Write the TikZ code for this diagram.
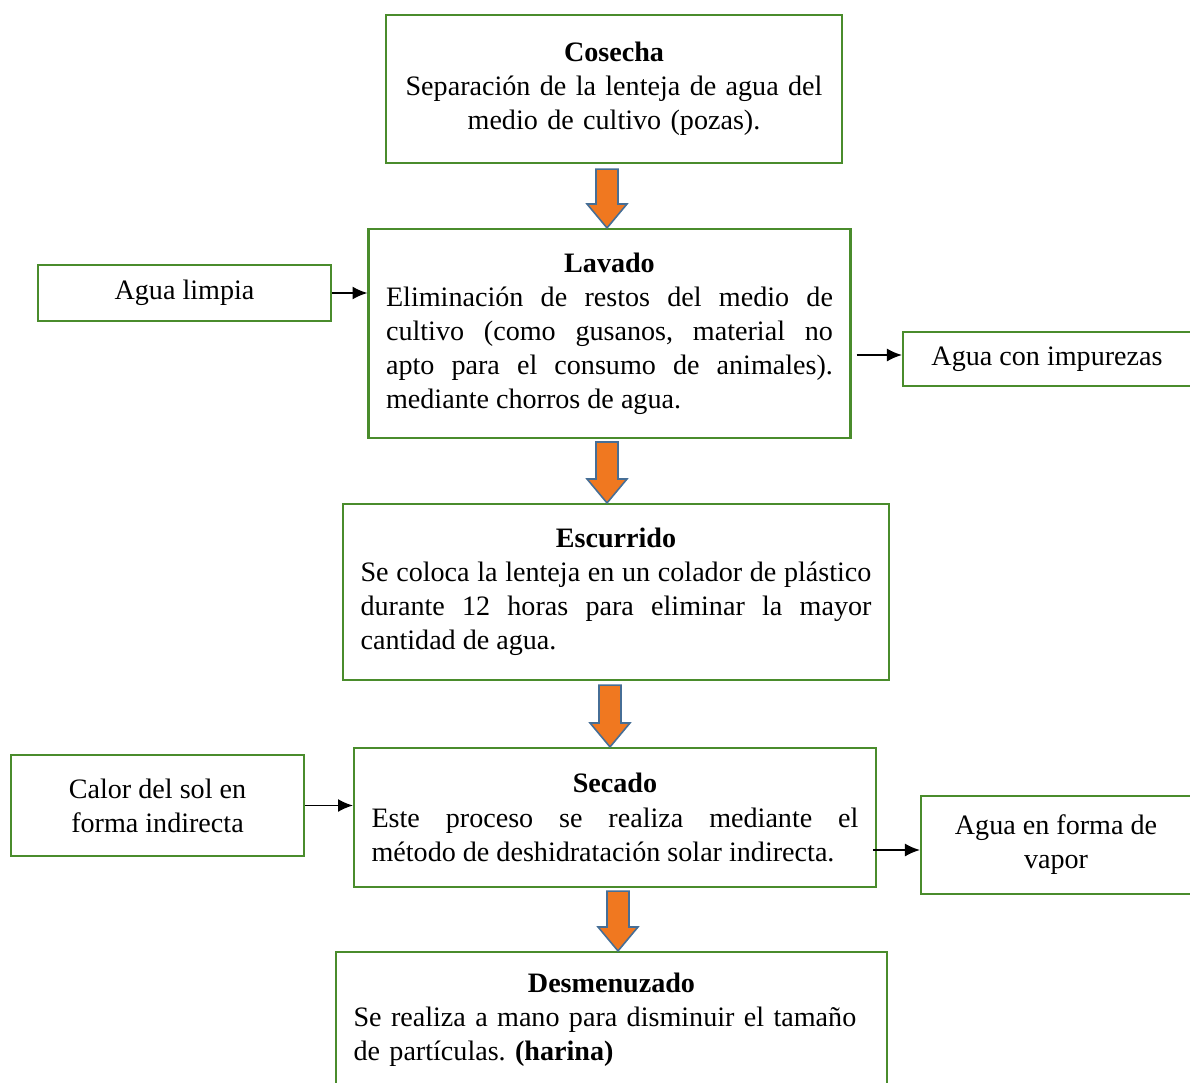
\documentclass[tikz,border=0pt]{standalone}
\usepackage{fontspec}
\setmainfont{Liberation Serif}
\usetikzlibrary{arrows.meta,positioning,calc}
\definecolor{boxgreen}{RGB}{74,140,44}
\definecolor{arroworange}{RGB}{240,120,32}
\definecolor{arrowedge}{RGB}{70,110,150}
\frenchspacing

\begin{document}
\begin{tikzpicture}[
  x=0.02cm, y=-0.02cm,
  >=Latex,
  font=\fontsize{16}{19.4}\selectfont,
  block/.style={rectangle, draw=boxgreen, line width=1.2pt, align=justify, inner xsep=0.35cm, inner ysep=0pt},
  side/.style={rectangle, draw=boxgreen, line width=1.2pt, align=center, inner sep=0pt},
  line/.style={draw, line width=1pt, -{Latex[length=3mm,width=2.6mm]}},
  flow/.style={draw=arrowedge, fill=arroworange, line width=0.9pt, line join=miter,
    to path={let \p1=(\tikztostart), \p2=(\tikztotarget) in
      (\x1-0.22cm,\y1) -- (\x1+0.22cm,\y1) -- (\x1+0.22cm,\y2+0.48cm)
      -- (\x1+0.4cm,\y2+0.48cm) -- (\x1,\y2) -- (\x1-0.4cm,\y2+0.48cm)
      -- (\x1-0.22cm,\y2+0.48cm) -- cycle}}
]
\clip (0,0) rectangle (1190,1082);

\node[block, align=center, text width=8.42cm, minimum width=9.12cm, minimum height=2.96cm] (cosecha) at (614,89)
  {\textbf{Cosecha}\\Separación de la lenteja de agua del\\medio de cultivo (pozas).};
\node[block, text width=8.94cm, minimum height=4.18cm] (lavado) at (609.5,333.5)
  {{\centering\textbf{Lavado}\par}Eliminación de restos del medio de\linebreak cultivo (como gusanos, material no\linebreak apto para el consumo de animales).\linebreak mediante chorros de agua.};
\node[block, text width=10.22cm, minimum height=3.52cm] (escurrido) at (616,592)
  {{\centering\textbf{Escurrido}\par}Se coloca la lenteja en un colador de plástico\linebreak durante 12 horas para eliminar la mayor\linebreak cantidad de agua.};
\node[block, text width=9.74cm, minimum height=2.78cm] (secado) at (615,817.5)
  {{\centering\textbf{Secado}\par}Este proceso se realiza mediante el\linebreak método de deshidratación solar indirecta.};
\node[block, align=left, text width=10.32cm, minimum height=2.72cm] (desmenuzado) at (611.5,1020)
  {{\centering\textbf{Desmenuzado}\par}Se realiza a mano para disminuir el tamaño\\de partículas. \textbf{(harina)}};

\node[side, minimum width=5.86cm, minimum height=1.12cm] (limpia) at (184.5,293) {Agua limpia};
\node[side, minimum width=5.76cm, minimum height=1.08cm] (impurezas) at (1047,359) {Agua con impurezas};
\node[side, minimum width=5.86cm, minimum height=2.02cm] (calor) at (157.5,805.5) {Calor del sol en\\forma indirecta};
\node[side, minimum width=5.4cm, minimum height=1.96cm] (vapor) at (1056,845) {Agua en forma de\\vapor};

% main flow
\path[flow] ([xshift=-0.14cm, yshift=-0.1cm]cosecha.south) to (lavado.north);
\path[flow] ([xshift=-0.05cm, yshift=-0.06cm]lavado.south) to (escurrido.north);
\path[flow] ([xshift=-0.12cm, yshift=-0.08cm]escurrido.south) to (secado.north);
\path[flow] ([xshift=0.06cm, yshift=-0.06cm]secado.south) to (desmenuzado.north);

% inputs and outputs
\path[line] (limpia.east) -- (limpia -| lavado.west);
\path[line] ([xshift=0.1cm, yshift=0.08cm]lavado.east |- impurezas.west) -- ([yshift=0.08cm]impurezas.west);
\path[line] (calor.east) -- (calor -| secado.west);
\path[line] ([xshift=-0.08cm, yshift=-0.1cm]secado.east |- vapor.west) -- ([yshift=-0.1cm]vapor.west);

\end{tikzpicture}
\end{document}
